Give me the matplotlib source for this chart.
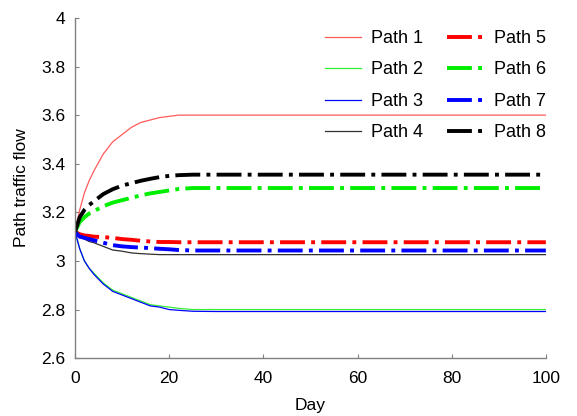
import matplotlib.pyplot as plt

plt.rcParams['font.family'] = ['Liberation Sans', 'DejaVu Sans']

# Data: path traffic flow per day (8 paths)
days = [0, 1, 2, 3, 4, 6, 8, 10, 12, 14, 16, 18, 20, 22, 25, 30, 100]
path1 = [3.12, 3.21, 3.28, 3.33, 3.37, 3.44, 3.49, 3.52, 3.55, 3.57, 3.58, 3.59, 3.595, 3.60, 3.60, 3.60, 3.60]
path2 = [3.12, 3.05, 3.00, 2.97, 2.95, 2.91, 2.88, 2.865, 2.85, 2.835, 2.82, 2.815, 2.81, 2.805, 2.80, 2.80, 2.80]
path3 = [3.12, 3.05, 3.00, 2.97, 2.945, 2.905, 2.875, 2.86, 2.845, 2.83, 2.815, 2.81, 2.80, 2.797, 2.793, 2.792, 2.792]
path4 = [3.12, 3.10, 3.09, 3.08, 3.075, 3.06, 3.045, 3.04, 3.033, 3.03, 3.028, 3.026, 3.026, 3.026, 3.026, 3.026, 3.026]
path5 = [3.12, 3.11, 3.105, 3.103, 3.10, 3.098, 3.095, 3.09, 3.087, 3.083, 3.08, 3.078, 3.078, 3.077, 3.077, 3.077, 3.077]
path6 = [3.12, 3.16, 3.18, 3.195, 3.205, 3.225, 3.24, 3.25, 3.26, 3.27, 3.278, 3.284, 3.29, 3.296, 3.30, 3.30, 3.30]
path7 = [3.12, 3.10, 3.095, 3.09, 3.085, 3.075, 3.065, 3.06, 3.057, 3.055, 3.053, 3.05, 3.048, 3.045, 3.043, 3.043, 3.043]
path8 = [3.12, 3.18, 3.21, 3.23, 3.245, 3.275, 3.295, 3.31, 3.32, 3.33, 3.338, 3.345, 3.35, 3.353, 3.355, 3.355, 3.355]

fig = plt.figure(figsize=(5.77, 4.16), dpi=100)
ax = fig.add_axes([0.130, 0.139, 0.816, 0.818])

ax.plot(days, path1, color='#ff5a5a', lw=0.9, label='Path 1')
ax.plot(days, path2, color='#33ee33', lw=0.9, label='Path 2')
ax.plot(days, path3, color='#0000ff', lw=0.9, label='Path 3')
ax.plot(days, path4, color='#303030', lw=0.9, label='Path 4')
ax.plot(days, path5, color='#ff0000', lw=2.8, ls='-.', label='Path 5')
ax.plot(days, path6, color='#00ee00', lw=2.8, ls='-.', label='Path 6')
ax.plot(days, path7, color='#0000ff', lw=2.8, ls='-.', label='Path 7')
ax.plot(days, path8, color='#000000', lw=2.8, ls='-.', label='Path 8')

ax.set_xlim(0, 100)
ax.set_ylim(2.6, 4.0)
ax.set_xticks([0, 20, 40, 60, 80, 100])
ax.set_yticks([2.6, 2.8, 3.0, 3.2, 3.4, 3.6, 3.8, 4.0])
ax.set_yticklabels(['2.6', '2.8', '3', '3.2', '3.4', '3.6', '3.8', '4'])
ax.tick_params(direction='in', length=3, labelsize=12.5, color='#808080')
ax.tick_params(axis='x', pad=9)
ax.tick_params(axis='y', pad=7)

for side in ['top', 'right']:
    ax.spines[side].set_visible(False)
for side in ['left', 'bottom']:
    ax.spines[side].set_color('#808080')
    ax.spines[side].set_linewidth(1.0)

ax.set_xlabel('Day', fontsize=12.5, labelpad=9)
ax.set_ylabel('Path traffic flow', fontsize=12.5, labelpad=9)

ax.legend(ncol=2, frameon=False, fontsize=13, loc='upper right',
          bbox_to_anchor=(546 / 577, 1 - 30 / 416), bbox_transform=fig.transFigure,
          borderaxespad=0, borderpad=0, handlelength=2.0, handletextpad=0.6,
          columnspacing=1.3, labelspacing=0.8)

fig.savefig('out.png', dpi=100)
